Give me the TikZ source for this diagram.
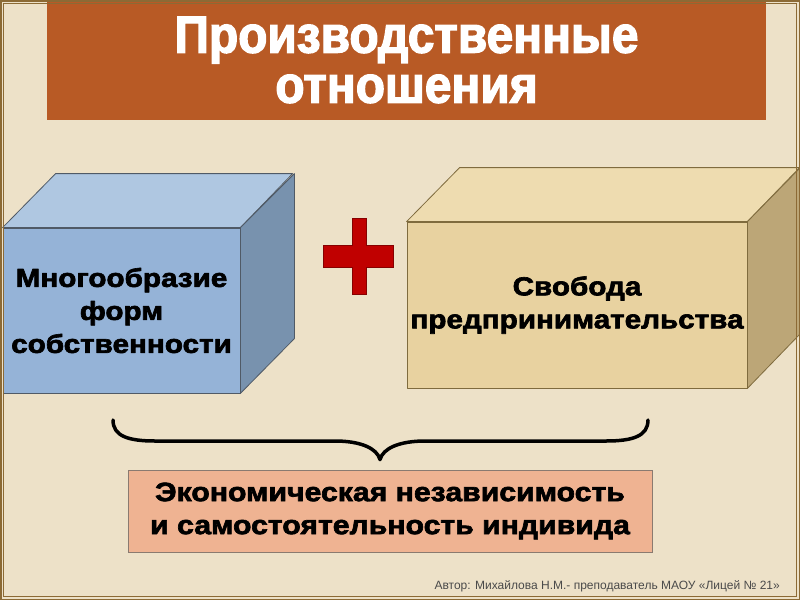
\documentclass[tikz,border=0pt]{standalone}
\usepackage{fontspec}
\setmainfont{Liberation Sans}
\newfontfamily\heavyfont{Liberation Sans Bold}[FakeBold=2.5,FakeStretch=1.14]
\newfontfamily\titlefont{Liberation Sans Bold}[FakeBold=2.5,FakeStretch=0.92]
\usetikzlibrary{positioning,calc}
\definecolor{pagebg}{HTML}{EDE1C8}
\definecolor{framebrown}{HTML}{8C6A35}
\definecolor{titlerust}{HTML}{B85A25}
\definecolor{bluefront}{HTML}{95B3D7}
\definecolor{bluetop}{HTML}{AFC7E1}
\definecolor{blueside}{HTML}{7892AE}
\definecolor{blueedge}{HTML}{505A66}
\definecolor{tanfront}{HTML}{E8D2A0}
\definecolor{tantop}{HTML}{EEDCB0}
\definecolor{tanside}{HTML}{BCA677}
\definecolor{tanedge}{HTML}{7F6B3E}
\definecolor{salmon}{HTML}{EFB392}
\definecolor{salmonedge}{HTML}{8A7A70}
\definecolor{plusred}{HTML}{C00000}
\definecolor{authorgray}{HTML}{4A4A4A}
\tikzset{
 frameline/.style={draw=framebrown,line width=1pt},
 titlebar/.style={rectangle,fill=titlerust,text=white,align=center,inner sep=0,font=\titlefont\fontsize{52}{50}\selectfont},
 face/.style={line width=.8pt,line join=round},
 frontface/.style={face,rectangle,inner sep=0,align=center,font=\heavyfont\fontsize{26}{33}\selectfont},
 bluebox/.style={frontface,fill=bluefront,draw=blueedge},
 tanbox/.style={frontface,fill=tanfront,draw=tanedge},
 resultbox/.style={rectangle,fill=salmon,draw=salmonedge,line width=.8pt,inner sep=0,align=center,font=\heavyfont\fontsize{26.5}{33}\selectfont},
 plussign/.style={fill=plusred,draw=plusred!70!black,line width=.8pt,line join=miter},
 bracepath/.style={line width=3.5pt,line cap=round,line join=round},
 footer/.style={inner sep=0,text=authorgray,font=\fontsize{12}{14}\selectfont}
}
\begin{document}
\begin{tikzpicture}[x=1pt,y=-1pt]
\path[use as bounding box,fill=pagebg] (0,0) rectangle (800,600);
% title
\node[titlebar,minimum width=719,minimum height=120] (title) at (406.5,60) {Производственные\\отношения};
% left block
\node[bluebox,minimum width=237,minimum height=165] (forms) at (121.5,310.5) {Многообразие\\форм\\собственности};
\draw[face,fill=bluetop,draw=blueedge] (forms.north west) -- ++(53,-54) -- ++(237,0) -- (forms.north east) -- cycle;
\draw[face,fill=blueside,draw=blueedge] (forms.north east) -- ++(54,-54) -- ++(0,165) -- (forms.south east) -- cycle;
% plus
\draw[plussign] (352,218) -- (366,218) -- (366,245) -- (393,245) -- (393,267) -- (366,267) -- (366,294)
 -- (352,294) -- (352,267) -- (323,267) -- (323,245) -- (352,245) -- cycle;
% right block
\node[tanbox,minimum width=340,minimum height=166] (freedom) at (577,305) {Свобода\\предпринимательства};
\draw[face,fill=tantop,draw=tanedge] (freedom.north west) -- ++(53,-54) -- ++(340,0) -- (freedom.north east) -- cycle;
\draw[face,fill=tanside,draw=tanedge] (freedom.north east) -- ++(53,-54) -- ++(0,166) -- (freedom.south east) -- cycle;
% brace and result
\node[resultbox,minimum width=524,minimum height=82] (result) at (390,511) {Экономическая независимость\\ и самостоятельность индивида};
\coordinate (braceL) at (113,420);
\coordinate (braceR) at (648,420);
\coordinate (braceTip) at ($(result.north)+(-10,-10)$);
\draw[bracepath] (braceL) .. controls (113,436) and (128,441) .. (155,441) -- (335,441)
 .. controls (360,441) and (377,448) .. (braceTip) .. controls (383,448) and (400,441) .. (425,441)
 -- (606,441) .. controls (633,441) and (648,436) .. (braceR);
% author
\node[footer,anchor=base east] (author) at (780,589) {Автор: Михайлова Н.М.- преподаватель МАОУ «Лицей № 21»};
% frame
\draw[frameline,line width=1.5pt] (0.75,0.75) rectangle (799.25,599.25);
\draw[frameline] (3.5,3.5) rectangle (796.5,596.5);
\end{tikzpicture}
\end{document}
